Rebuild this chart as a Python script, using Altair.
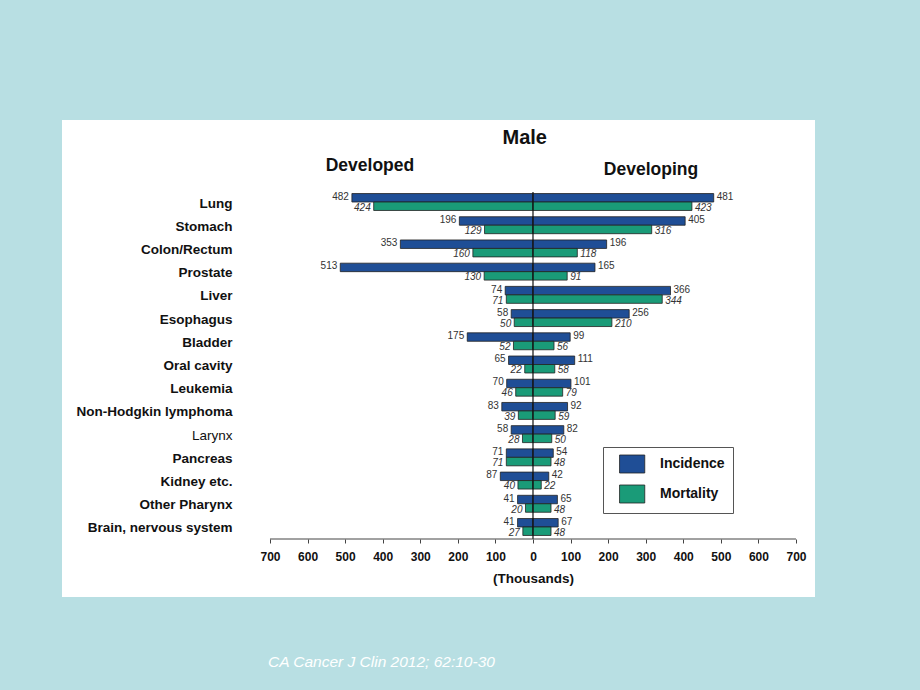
import altair as alt
import pandas as pd

cancers = ["Lung", "Stomach", "Colon/Rectum", "Prostate", "Liver", "Esophagus",
           "Bladder", "Oral cavity", "Leukemia", "Non-Hodgkin lymphoma", "Larynx",
           "Pancreas", "Kidney etc.", "Other Pharynx", "Brain, nervous system"]
developed_incidence = [482, 196, 353, 513, 74, 58, 175, 65, 70, 83, 58, 71, 87, 41, 41]
developed_mortality = [424, 129, 160, 130, 71, 50, 52, 22, 46, 39, 28, 71, 40, 20, 27]
developing_incidence = [481, 405, 196, 165, 366, 256, 99, 111, 101, 92, 82, 54, 42, 65, 67]
developing_mortality = [423, 316, 118, 91, 344, 210, 56, 58, 79, 59, 50, 48, 22, 48, 48]
tick_values = [-700, -600, -500, -400, -300, -200, -100, 0, 100, 200, 300, 400, 500, 600, 700]

rows = []
for i, c in enumerate(cancers):
    rows.append(dict(cancer=c, type="Incidence", region="Developed", value=developed_incidence[i], signed=-developed_incidence[i]))
    rows.append(dict(cancer=c, type="Mortality", region="Developed", value=developed_mortality[i], signed=-developed_mortality[i]))
    rows.append(dict(cancer=c, type="Incidence", region="Developing", value=developing_incidence[i], signed=developing_incidence[i]))
    rows.append(dict(cancer=c, type="Mortality", region="Developing", value=developing_mortality[i], signed=developing_mortality[i]))
df = pd.DataFrame(rows)

FONT = "Liberation Sans"
W, H = 753, 477

xscale = alt.Scale(domain=[-1253.6, 750.6], nice=False, zero=False)
yscale = alt.Scale(domain=cancers, range=[70.4, 418.6], paddingInner=0.27, paddingOuter=0.135)
yoff = alt.YOffset("type:N", sort=["Incidence", "Mortality"], scale=alt.Scale(paddingInner=0, paddingOuter=0))

y_axis = alt.Axis(title=None, ticks=False, domain=False, labelPadding=0, offset=-170,
                  labelFont=FONT, labelFontSize=13.5, labelColor="#111", labelOffset=1.5,
                  labelFontWeight=alt.ConditionalAxisLabelFontWeight(
                      condition={"test": "datum.value == 'Larynx'", "value": "normal"},
                      value="bold"),
                  labelLimit=300)
y_enc = alt.Y("cancer:N", sort=cancers, scale=yscale, axis=y_axis)

base = alt.Chart(df)

bars = base.mark_bar(stroke="#222", strokeWidth=0.8).encode(
    x=alt.X("signed:Q", scale=xscale,
            axis=alt.Axis(values=tick_values, labelExpr="abs(datum.value)", domain=False,
                          grid=False, tickSize=4, tickColor="#444", labelFont=FONT,
                          labelFontSize=12, labelFontWeight="bold", labelColor="#111",
                          labelPadding=8, title="(Thousands)", titleFont=FONT,
                          titleFontSize=13.5, titleFontWeight="bold", titleColor="#111",
                          titlePadding=9, titleX=471, titleAlign="center", offset=-58)),
    x2=alt.datum(0),
    y=y_enc,
    yOffset=yoff,
    color=alt.Color("type:N", sort=["Incidence", "Mortality"],
                    scale=alt.Scale(domain=["Incidence", "Mortality"], range=["#1f4e96", "#1a9b78"]),
                    legend=alt.Legend(title=None, orient="none", legendX=541, legendY=327,
                                      symbolType="M-0.05,-1H2.75V1H-0.05Z", symbolSize=324,
                                      symbolStrokeColor="#222", symbolStrokeWidth=0.8,
                                      symbolOpacity=1,
                                      labelFont=FONT, labelFontSize=14, labelFontWeight="bold",
                                      labelColor="#111", labelOffset=30.5, rowPadding=7,
                                      padding=7.5, strokeColor="#555", fillColor="white",
                                      labelExpr="datum.label + '\u00a0\u00a0\u00a0\u00a0\u00a0\u00a0\u00a0'")),
)

def labels(region, typ, italic):
    return base.transform_filter(
        (alt.datum.region == region) & (alt.datum.type == typ)
    ).mark_text(
        align="right" if region == "Developed" else "left",
        dx=-3 if region == "Developed" else 3,
        dy=-1 if typ == "Incidence" else 1.5,
        font=FONT, fontSize=10, color="#333",
        fontStyle="italic" if italic else "normal",
    ).encode(
        x=alt.X("signed:Q", scale=xscale),
        y=y_enc,
        yOffset=yoff,
        text="value:Q",
    )

lab_layers = [labels("Developed", "Incidence", False), labels("Developed", "Mortality", True),
              labels("Developing", "Incidence", False), labels("Developing", "Mortality", True)]

center = alt.Chart(pd.DataFrame({"x": [0]})).mark_rule(color="#111", strokeWidth=1.2).encode(
    x=alt.X("x:Q", scale=xscale), y=alt.value(72), y2=alt.value(419))

axis_line = alt.Chart(pd.DataFrame({"a": [-700], "b": [700]})).mark_rule(color="#444", strokeWidth=1).encode(
    x=alt.X("a:Q", scale=xscale), x2="b:Q", y=alt.value(419))

heads = pd.DataFrame({"label": ["Developed", "Developing"], "xpos": [-434, 314], "ypix": [46, 50]})
head_text = alt.Chart(heads).mark_text(font=FONT, fontSize=17.5, fontWeight="bold", color="#111",
                                       baseline="middle").encode(
    x=alt.X("xpos:Q", scale=xscale), y=alt.Y("ypix:Q", scale=None), text="label:N")

title_text = alt.Chart(pd.DataFrame({"t": ["Male"], "xpos": [-22]})).mark_text(
    font=FONT, fontSize=20, fontWeight="bold", color="#111", baseline="middle").encode(
    x=alt.X("xpos:Q", scale=xscale), y=alt.value(18), text="t:N")

foot = alt.Chart(pd.DataFrame({"t": ["CA Cancer J Clin 2012; 62:10-30"]})).mark_text(
    font=FONT, fontSize=15.5, fontStyle="italic", color="white", align="left",
    baseline="middle").encode(x=alt.value(206), y=alt.value(542), text="t:N")

chart = alt.layer(bars, *lab_layers, center, axis_line, head_text, title_text, foot).properties(
    width=W, height=H,
    padding={"left": 62, "top": 120, "right": 105, "bottom": 93},
    autosize=alt.AutoSizeParams(type="none"),
    background="#b8dfe3",
).configure_view(fill="white", stroke=None)

chart.save("out.html", embed_options={"renderer": "svg", "actions": False})
